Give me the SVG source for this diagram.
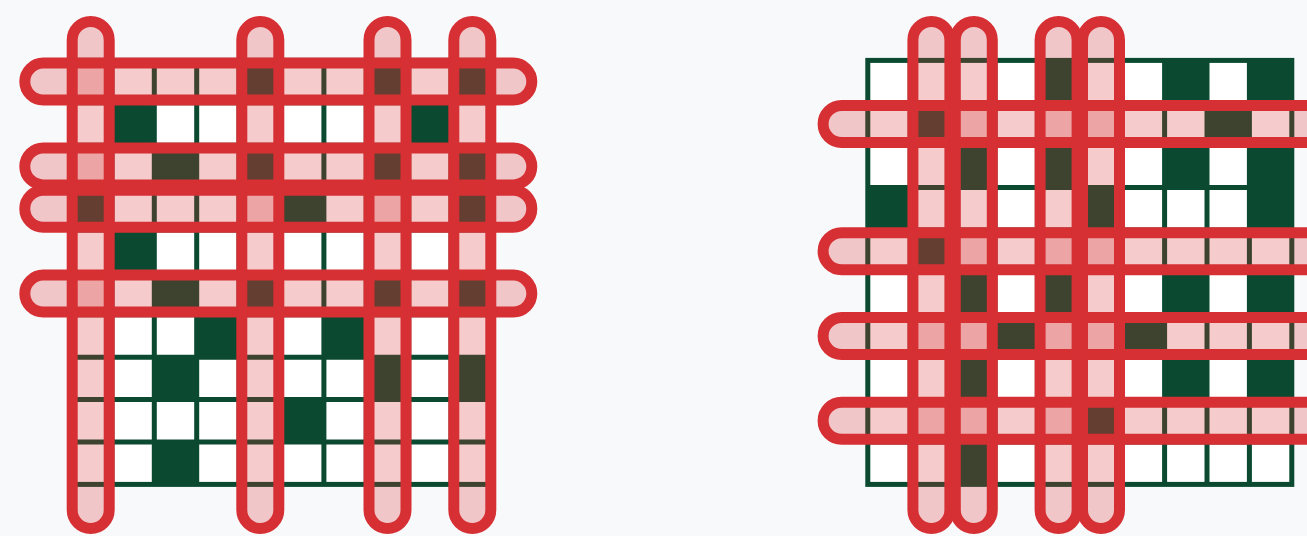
<svg xmlns="http://www.w3.org/2000/svg" width="1307" height="536" viewBox="0 0 1307 536">
  <defs>
    <style>
      .bg { fill: #f8f9fb; }
      .cells { fill: #ffffff; }
      .dark { fill: #0b4a30; }
      .lines { fill: none; stroke: #0b4a30; stroke-width: 5; }
      .border { fill: none; stroke: #0b4a30; stroke-width: 5; stroke-linejoin: miter; }
      .pill { fill: rgba(214, 48, 49, 0.25); stroke: #d63034; stroke-width: 11; }
    </style>
    <path id="gridlines" d="M42.4,0V424M84.8,0V424M127.2,0V424M169.6,0V424M212,0V424M254.4,0V424M296.8,0V424M339.2,0V424M381.6,0V424M0,42.4H424M0,84.8H424M0,127.2H424M0,169.6H424M0,212H424M0,254.4H424M0,296.8H424M0,339.2H424M0,381.6H424"/>
    <g id="matrix">
      <rect class="cells" x="0" y="0" width="424" height="424"/>
      <!-- row 0 -->
      <rect class="dark" x="169.6" y="0" width="42.4" height="42.4"/>
      <rect class="dark" x="296.8" y="0" width="42.4" height="42.4"/>
      <rect class="dark" x="381.6" y="0" width="42.4" height="42.4"/>
      <!-- row 1 -->
      <rect class="dark" x="42.4" y="42.4" width="42.4" height="42.4"/>
      <rect class="dark" x="339.2" y="42.4" width="42.4" height="42.4"/>
      <!-- row 2 -->
      <rect class="dark" x="84.8" y="84.8" width="42.4" height="42.4"/>
      <rect class="dark" x="169.6" y="84.8" width="42.4" height="42.4"/>
      <rect class="dark" x="296.8" y="84.8" width="42.4" height="42.4"/>
      <rect class="dark" x="381.6" y="84.8" width="42.4" height="42.4"/>
      <!-- row 3 -->
      <rect class="dark" x="0" y="127.2" width="42.4" height="42.4"/>
      <rect class="dark" x="212" y="127.2" width="42.4" height="42.4"/>
      <rect class="dark" x="381.6" y="127.2" width="42.4" height="42.4"/>
      <!-- row 4 -->
      <rect class="dark" x="42.4" y="169.6" width="42.4" height="42.4"/>
      <!-- row 5 -->
      <rect class="dark" x="84.8" y="212" width="42.4" height="42.4"/>
      <rect class="dark" x="169.6" y="212" width="42.4" height="42.4"/>
      <rect class="dark" x="296.8" y="212" width="42.4" height="42.4"/>
      <rect class="dark" x="381.6" y="212" width="42.4" height="42.4"/>
      <!-- row 6 -->
      <rect class="dark" x="127.2" y="254.4" width="42.4" height="42.4"/>
      <rect class="dark" x="254.4" y="254.4" width="42.4" height="42.4"/>
      <!-- row 7 -->
      <rect class="dark" x="84.8" y="296.8" width="42.4" height="42.4"/>
      <rect class="dark" x="296.8" y="296.8" width="42.4" height="42.4"/>
      <rect class="dark" x="381.6" y="296.8" width="42.4" height="42.4"/>
      <!-- row 8 -->
      <rect class="dark" x="212" y="339.2" width="42.4" height="42.4"/>
      <!-- row 9 -->
      <rect class="dark" x="84.8" y="381.6" width="42.4" height="42.4"/>
      <use href="#gridlines" class="lines"/>
      <rect class="border" x="0" y="0" width="424" height="424"/>
    </g>
  </defs>

  <rect class="bg" x="0" y="0" width="1307" height="536"/>

  <!-- Left matrix: rows 0,2,3,5 and columns 0,4,7,9 selected -->
  <g id="left-matrix" transform="translate(69.5,60.4)">
    <use href="#matrix"/>
    <g id="left-row-selection">
      <rect id="left-row-0" class="pill" x="-44.7" y="2.7" width="507" height="37" rx="18.5"/>
      <rect id="left-row-2" class="pill" x="-44.7" y="87.5" width="507" height="37" rx="18.5"/>
      <rect id="left-row-3" class="pill" x="-44.7" y="129.9" width="507" height="37" rx="18.5"/>
      <rect id="left-row-5" class="pill" x="-44.7" y="214.7" width="507" height="37" rx="18.5"/>
    </g>
    <g id="left-col-selection">
      <rect id="left-col-0" class="pill" x="2.7" y="-38.9" width="37" height="507" rx="18.5"/>
      <rect id="left-col-4" class="pill" x="172.3" y="-38.9" width="37" height="507" rx="18.5"/>
      <rect id="left-col-7" class="pill" x="299.5" y="-38.9" width="37" height="507" rx="18.5"/>
      <rect id="left-col-9" class="pill" x="384.3" y="-38.9" width="37" height="507" rx="18.5"/>
    </g>
  </g>

  <!-- Right matrix: rows 1,4,6,8 and columns 1,2,4,5 selected -->
  <g id="right-matrix" transform="translate(867.8,60.4)">
    <use href="#matrix"/>
    <g id="right-row-selection">
      <rect id="right-row-1" class="pill" x="-44.7" y="45.1" width="507" height="37" rx="18.5"/>
      <rect id="right-row-4" class="pill" x="-44.7" y="172.3" width="507" height="37" rx="18.5"/>
      <rect id="right-row-6" class="pill" x="-44.7" y="257.1" width="507" height="37" rx="18.5"/>
      <rect id="right-row-8" class="pill" x="-44.7" y="341.9" width="507" height="37" rx="18.5"/>
    </g>
    <g id="right-col-selection">
      <rect id="right-col-1" class="pill" x="45.1" y="-38.9" width="37" height="507" rx="18.5"/>
      <rect id="right-col-2" class="pill" x="87.5" y="-38.9" width="37" height="507" rx="18.5"/>
      <rect id="right-col-4" class="pill" x="172.3" y="-38.9" width="37" height="507" rx="18.5"/>
      <rect id="right-col-5" class="pill" x="214.7" y="-38.9" width="37" height="507" rx="18.5"/>
    </g>
  </g>
</svg>
